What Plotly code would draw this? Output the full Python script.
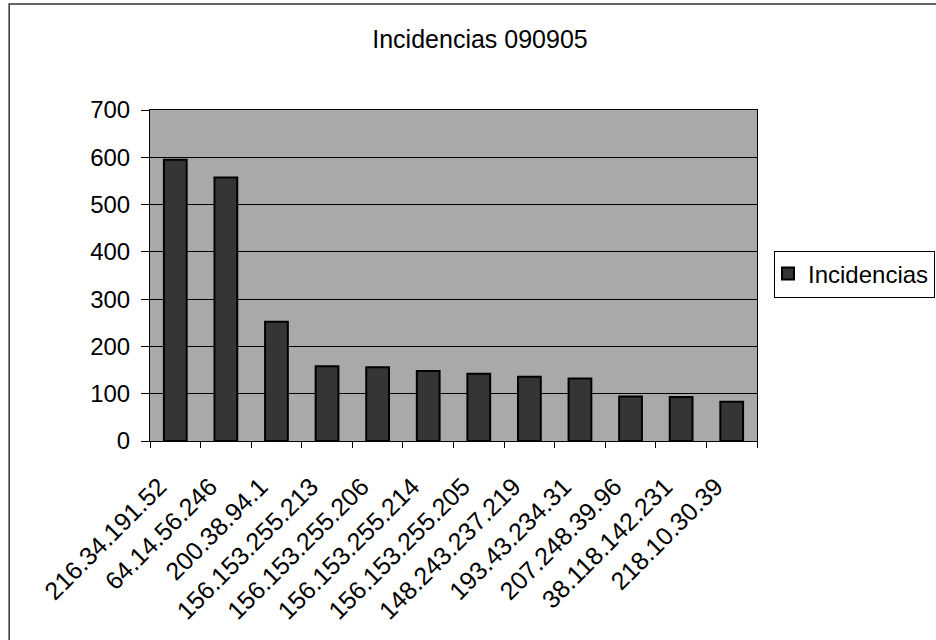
import plotly.graph_objects as go

# Incidencias por dirección IP (09/09/05)
ips = [
    "216.34.191.52", "64.14.56.246", "200.38.94.1", "156.153.255.213",
    "156.153.255.206", "156.153.255.214", "156.153.255.205", "148.243.237.219",
    "193.43.234.31", "207.248.39.96", "38.118.142.231", "218.10.30.39",
]
incidencias = [595, 557, 252, 158, 156, 148, 142, 136, 132, 94, 93, 83]
y_ticks = [0, 100, 200, 300, 400, 500, 600, 700]

FONT = "Liberation Sans, Arial, sans-serif"

fig = go.Figure(
    go.Bar(
        x=ips,
        y=incidencias,
        name="Incidencias",
        marker=dict(color="#353535", line=dict(color="#000000", width=2)),
        showlegend=True,
    )
)

fig.update_layout(
    width=936,
    height=640,
    margin=dict(l=150, r=179, t=110, b=199, autoexpand=False),
    paper_bgcolor="white",
    plot_bgcolor="#a9a9a9",
    bargap=0.55,
    font=dict(family=FONT, color="#000000"),
    title=dict(
        text="Incidencias 090905",
        x=480 / 936, xref="container", xanchor="center",
        y=1 - 39 / 640, yref="container", yanchor="middle",
        font=dict(size=25, family=FONT, color="#000000"),
    ),
    legend=dict(
        x=1.028, xanchor="left", y=0.5045, yanchor="middle",
        bordercolor="#000000", borderwidth=1, bgcolor="white",
        indentation=-7,
        font=dict(size=24, family=FONT),
    ),
    shapes=[
        # chart frame
        dict(type="rect", xref="paper", yref="paper",
             x0=-0.232, x1=1.32, y0=-0.62, y1=1.32,
             line=dict(color="#333333", width=1.5), layer="below"),
    ],
)

fig.update_yaxes(
    range=[0, 700],
    tickvals=y_ticks,
    ticks="outside", ticklen=8, tickcolor="#000000",
    ticklabelstandoff=6,
    showgrid=True, gridcolor="#000000", gridwidth=1,
    showline=True, linecolor="#000000", linewidth=1, mirror=True,
    zeroline=False,
    tickfont=dict(size=24, family=FONT),
)
fig.update_xaxes(
    type="category",
    tickangle=-45,
    ticks="outside", ticklen=6, tickcolor="#000000",
    tickson="boundaries",
    ticklabelstandoff=20,
    ticklabelshift=-16,
    showline=True, linecolor="#000000", linewidth=1, mirror=True,
    tickfont=dict(size=25, family=FONT),
)

fig.write_html("out.html")
